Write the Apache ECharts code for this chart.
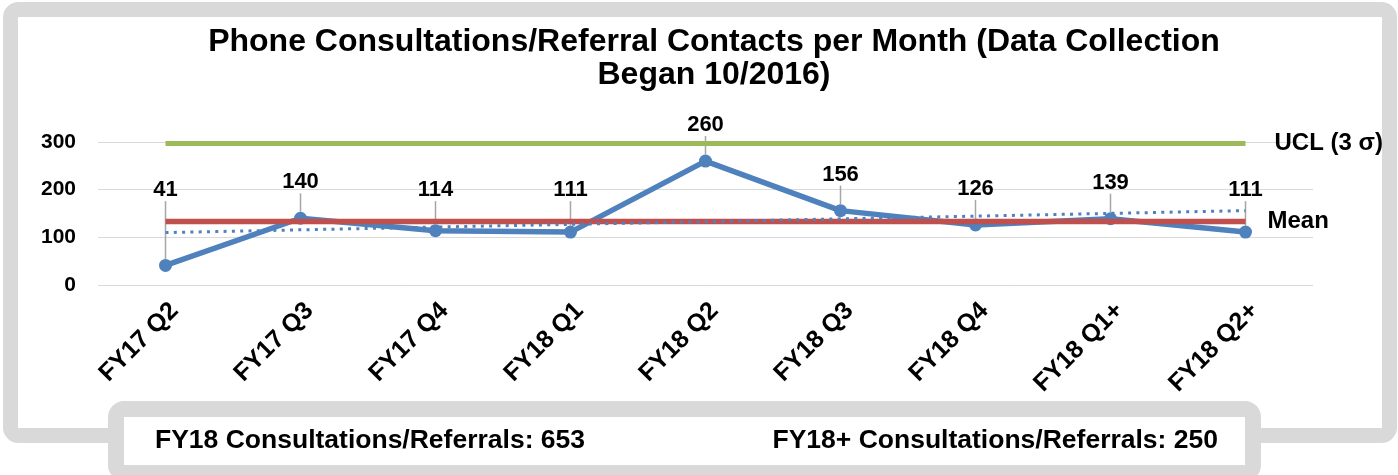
<!DOCTYPE html>
<html lang="en" style="height: 100%">
<head>
  <meta charset="utf-8">
</head>
<body style="height: 100%; margin: 0; background: #fff">
  <div id="container" style="width: 1398px; height: 475px"></div>
  <script src="https://cdn.jsdelivr.net/npm/echarts@6/dist/echarts.min.js"></script>
  <script type="text/javascript">
    // values
    const categories = ['FY17 Q2', 'FY17 Q3', 'FY17 Q4', 'FY18 Q1', 'FY18 Q2', 'FY18 Q3', 'FY18 Q4', 'FY18 Q1+', 'FY18 Q2+'];
    const contacts = [41, 140, 114, 111, 260, 156, 126, 139, 111];
    const meanValue = 133;
    const uclValue = 297;
    const trendEnds = [110, 156]; // dotted linear trend, first and last category
    const yTicks = [0, 100, 200, 300];
    const titleLines = ['Phone Consultations/Referral Contacts per Month (Data Collection', 'Began 10/2016)'];
    const footerTexts = ['FY18 Consultations/Referrals: 653', 'FY18+ Consultations/Referrals: 250'];

    const FONT = "'Liberation Sans', Arial, sans-serif";
    const first = categories[0];
    const last = categories[categories.length - 1];

    var dom = document.getElementById('container');
    var myChart = echarts.init(dom, null, { renderer: 'canvas' });

    var option = {
      animation: false,
      textStyle: { fontFamily: FONT },
      grid: { left: 98, right: 85, top: 142, bottom: 190 },
      xAxis: {
        type: 'category',
        data: categories,
        boundaryGap: true,
        axisLine: { show: false },
        axisTick: { show: false },
        axisLabel: {
          interval: 0,
          rotate: 45,
          margin: 13,
          verticalAlign: 'top',
          color: '#000',
          fontWeight: 'bold',
          fontSize: 25,
          fontFamily: FONT
        }
      },
      yAxis: {
        type: 'value',
        min: yTicks[0],
        max: yTicks[yTicks.length - 1],
        interval: 100,
        axisLine: { show: false },
        axisTick: { show: false },
        splitLine: { lineStyle: { color: '#d9d9d9', width: 1 } },
        axisLabel: {
          margin: 22,
          color: '#000',
          fontWeight: 'bold',
          fontSize: 21,
          fontFamily: FONT
        }
      },
      graphic: {
        elements: [
          {
            type: 'rect', z: -10, silent: true,
            shape: { x: 10.5, y: 9.5, width: 1379, height: 426, r: 8 },
            style: { fill: '#fff', stroke: '#d9d9d9', lineWidth: 15 }
          },
          {
            type: 'rect', z: 10, silent: true,
            shape: { x: 116, y: 409, width: 1137, height: 64, r: 8 },
            style: { fill: '#fff', stroke: '#d9d9d9', lineWidth: 16 }
          },
          {
            type: 'text', z: 11, x: 714, y: 42,
            style: { text: titleLines[0], font: 'bold 32px ' + FONT, fill: '#000', textAlign: 'center', textVerticalAlign: 'middle' }
          },
          {
            type: 'text', z: 11, x: 714, y: 75,
            style: { text: titleLines[1], font: 'bold 32px ' + FONT, fill: '#000', textAlign: 'center', textVerticalAlign: 'middle' }
          },
          {
            type: 'text', z: 11, x: 155, y: 441,
            style: { text: footerTexts[0], font: 'bold 26.5px ' + FONT, fill: '#000', textAlign: 'left', textVerticalAlign: 'middle' }
          },
          {
            type: 'text', z: 11, x: 1218, y: 441,
            style: { text: footerTexts[1], font: 'bold 26.5px ' + FONT, fill: '#000', textAlign: 'right', textVerticalAlign: 'middle' }
          }
        ]
      },
      series: [
        {
          name: 'Contacts',
          type: 'line',
          z: 2,
          data: contacts,
          symbol: 'circle',
          symbolSize: 13,
          lineStyle: { color: '#4f81bd', width: 5.5 },
          itemStyle: { color: '#4f81bd' },
          label: {
            show: true,
            position: 'top',
            color: '#000',
            fontWeight: 'bold',
            fontSize: 22,
            fontFamily: FONT
          },
          labelLine: {
            show: true,
            lineStyle: { color: '#a6a6a6', width: 1.5 }
          },
          labelLayout: function (params) {
            // labels lifted to a common band, like the moved Excel data labels
            var band = myChart.convertToPixel({ yAxisIndex: 0 }, 176);
            var pointY = params.rect.y + params.rect.height / 2;
            return {
              y: Math.min(pointY - 25, band),
              verticalAlign: 'bottom',
              align: 'center'
            };
          }
        },
        {
          name: 'Mean',
          type: 'line',
          z: 3,
          data: [[first, meanValue], [last, meanValue]],
          symbol: 'none',
          lineStyle: { color: '#c0504d', width: 5.5 },
          endLabel: {
            show: true,
            formatter: 'Mean',
            distance: 22,
            color: '#000',
            fontWeight: 'bold',
            fontSize: 24,
            fontFamily: FONT
          }
        },
        {
          name: 'UCL',
          type: 'line',
          z: 4,
          data: [[first, uclValue], [last, uclValue]],
          symbol: 'none',
          lineStyle: { color: '#9bbb59', width: 5 },
          endLabel: {
            show: true,
            formatter: 'UCL (3 σ)',
            distance: 29,
            color: '#000',
            fontWeight: 'bold',
            fontSize: 24,
            fontFamily: FONT
          }
        },
        {
          name: 'Trend',
          type: 'line',
          z: 5,
          data: [[first, trendEnds[0]], [last, trendEnds[1]]],
          symbol: 'none',
          lineStyle: { color: '#4f81bd', width: 3, type: [3, 5.3] }
        }
      ]
    };

    myChart.setOption(option);
    window.addEventListener('resize', myChart.resize);
  </script>
</body>
</html>
